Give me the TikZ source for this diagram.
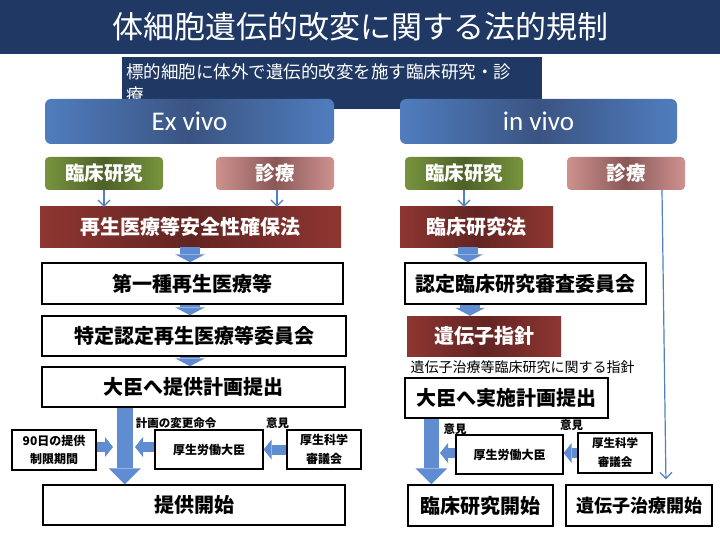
\documentclass[tikz,border=0pt]{standalone}
\usepackage{fontspec}
\setmainfont{Noto Sans CJK JP}
\newfontfamily\latfont{Carlito}
\usetikzlibrary{arrows.meta}
\definecolor{navy}{RGB}{31,56,100}
\definecolor{blkblue}{RGB}{96,141,210}
\definecolor{thinblue}{RGB}{79,129,189}
\definecolor{hdredge}{RGB}{80,125,190}
\definecolor{hdrmid}{RGB}{58,84,130}
\definecolor{grnedge}{RGB}{120,148,62}
\definecolor{grnmid}{RGB}{78,97,40}
\definecolor{pnkedge}{RGB}{206,146,143}
\definecolor{pnkmid}{RGB}{138,88,86}
\definecolor{rededge}{RGB}{142,54,49}
\definecolor{redmid}{RGB}{98,36,34}
\newcommand{\myfs}[1]{\fontsize{#1}{#1}\selectfont}
\begin{document}
\begin{tikzpicture}[x=1pt,y=-1pt,
  hdr/.style={rounded corners=6pt, left color=hdredge, right color=hdredge, middle color=hdrmid,
    text=white, font=\latfont\myfs{27}, inner sep=0pt, minimum height=45pt},
  grn/.style={rounded corners=4pt, left color=grnedge, right color=grnedge, middle color=grnmid,
    text=white, font=\bfseries\myfs{19.5}, inner sep=0pt, minimum width=118pt, minimum height=33pt},
  pnk/.style={rounded corners=4pt, left color=pnkedge, right color=pnkedge, middle color=pnkmid,
    text=white, font=\bfseries\myfs{19.5}, inner sep=0pt, minimum width=118pt, minimum height=33pt},
  redb/.style={left color=rededge, right color=rededge, middle color=redmid,
    text=white, font=\bfseries\myfs{20}, inner sep=0pt, minimum height=40pt},
  wbox/.style={draw=black, line width=1.5pt, fill=white, font=\bfseries\myfs{20}, inner sep=0pt, minimum height=40pt},
  sbox/.style={draw=black, line width=1.2pt, fill=white, font=\bfseries\myfs{12}, inner sep=0pt,
    align=center, minimum height=39pt},
  lbl/.style={font=\bfseries\myfs{11.5}, inner sep=0pt},
  thinarr/.style={draw=thinblue, line width=1.2pt, -{Straight Barb[length=6pt,width=12pt]}},
  vblk/.style={draw=blkblue, line width=20pt, -{Triangle[width=30pt,length=8pt,line width=0pt]}},
  hblk/.style={draw=blkblue, line width=10pt, -{Triangle[width=20pt,length=8pt,line width=0pt]}},
  bblk/.style={draw=blkblue, line width=15.5pt, -{Triangle[width=32pt,length=16pt,line width=0pt]}}
]
\useasboundingbox (0,0) rectangle (720,540);
\fill[white] (0,0) rectangle (720,540);
% title
\fill[navy] (0,0) rectangle (720,54);
\node[text=white, font=\myfs{31}] (title) at (360,27) {体細胞遺伝的改変に関する法的規制};
% subtitle banner
\fill[navy] (122,57) rectangle (542,109);
\node[text=white, font=\myfs{17.5}, anchor=base west, inner sep=0pt] (sub1) at (126,78.5) {標的細胞に体外で遺伝的改変を施す臨床研究・診};
\node[text=white, font=\myfs{17.5}, anchor=base west, inner sep=0pt] (sub2) at (126,101.5) {療};
% headers
\node[hdr, minimum width=289pt] (exv) at (189.5,121.5) {Ex vivo};
\node[hdr, minimum width=277pt] (inv) at (538.5,121.5) {in vivo};
% row 2
\node[grn] (gL) at (104,173.5) {臨床研究};
\node[pnk] (pL) at (275,173.5) {診療};
\node[grn] (gR) at (464,173.5) {臨床研究};
\node[pnk] (pR) at (626,173.5) {診療};
% left column
\node[redb, minimum width=301pt] (rL) at (190.5,227) {再生医療等安全性確保法};
\node[wbox, minimum width=301pt, minimum height=41pt] (b1) at (192.5,283.5) {第一種再生医療等};
\node[wbox, minimum width=304pt] (b2) at (194,336) {特定認定再生医療等委員会};
\node[wbox, minimum width=303pt] (b3) at (193.5,387) {大臣へ提供計画提出};
\node[sbox, minimum width=84pt, minimum height=40pt, font=\bfseries\fontsize{12}{18}\selectfont] (n90) at (54,450) {90日の提供\\制限期間};
\node[sbox, minimum width=108pt] (mhL) at (209,449.5) {厚生労働大臣};
\node[sbox, minimum width=74pt, font=\bfseries\fontsize{12}{19}\selectfont] (csL) at (324,449.5) {厚生科学\\審議会};
\node[wbox, minimum width=302pt] (st1) at (194,505) {提供開始};
\node[lbl] (lab1) at (176,423) {計画の変更命令};
\node[lbl] (lab2) at (277.5,423) {意見};
% right column
\node[redb, minimum width=153pt] (rR) at (476.5,227) {臨床研究法};
\node[wbox, minimum width=241pt, minimum height=41pt] (c1) at (525.5,283.5) {認定臨床研究審査委員会};
\node[redb, minimum width=154pt] (rR2) at (484,336) {遺伝子指針};
\node[font=\myfs{14}, inner sep=0pt] (note) at (522.5,367) {遺伝子治療等臨床研究に関する指針};
\node[wbox, minimum width=203pt] (c2) at (506.5,398) {大臣へ実施計画提出};
\node[sbox, minimum width=107pt] (mhR) at (509.5,454.5) {厚生労働大臣};
\node[sbox, minimum width=74pt, minimum height=40pt, font=\bfseries\fontsize{11.5}{19}\selectfont] (csR) at (615,453) {厚生科学\\審議会};
\node[wbox, minimum width=145pt, minimum height=41pt] (st2) at (480.5,505.5) {臨床研究開始};
\node[wbox, minimum width=146pt, minimum height=41pt, font=\bfseries\myfs{18}] (st3) at (639,505.5) {遺伝子治療開始};
\node[lbl] (lab3) at (455,429) {意見};
\node[lbl] (lab4) at (571.5,425) {意見};
% thin arrows
\draw[thinarr] (gL.south) -- (gL.south |- rL.north);
\draw[thinarr] ([xshift=2pt]pL.south) -- ([xshift=2pt]pL.south |- rL.north);
\draw[thinarr] (gR.south) -- (gR.south |- rR.north);
\draw[thinarr, shorten >=5pt] ([xshift=36pt]pR.south) -- ([xshift=27pt]st3.north);
% block arrows left
\draw[vblk] ([xshift=-0.5pt]rL.south) -- ([xshift=-0.5pt]rL.south |- b1.north);
\draw[vblk] ([xshift=-2.5pt]b1.south) -- ([xshift=-2.5pt]b1.south |- b2.north);
\draw[vblk] ([xshift=-4pt]b2.south) -- ([xshift=-4pt]b2.south |- b3.north);
\draw[bblk] ([xshift=83.5pt]b3.south west) -- ([xshift=83.5pt]b3.south west |- st1.north);
\coordinate (j90) at (113,447);
\coordinate (jM) at (135,447);
\draw[hblk] (n90.east |- j90) -- (j90);
\draw[hblk] (mhL.west |- jM) -- (jM);
\draw[hblk] (csL.west) -- (csL.west -| mhL.east);
% block arrows right
\draw[vblk] ([xshift=-8.5pt]rR.south) -- ([xshift=-8.5pt]rR.south |- c1.north);
\draw[vblk] ([xshift=-55.5pt]c1.south) -- ([xshift=-55.5pt]c1.south |- rR2.north);
\draw[bblk] ([xshift=27pt]c2.south west) -- ([xshift=27pt]c2.south west |- st2.north);
\coordinate (jR) at (440,453);
\draw[hblk] (mhR.west |- jR) -- (jR);
\draw[hblk] (csR.west) -- (csR.west -| mhR.east);
\end{tikzpicture}
\end{document}
